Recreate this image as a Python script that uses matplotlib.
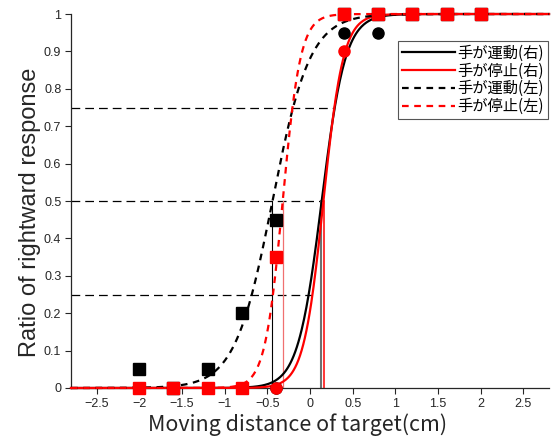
import numpy as np
import matplotlib
matplotlib.use("Agg")
import matplotlib.pyplot as plt
from matplotlib.lines import Line2D

# stimulus positions (cm)
stim_x = [-2.0, -1.6, -1.2, -0.8, -0.4, 0.4, 0.8, 1.2, 1.6, 2.0]

# observed ratios
move_right = [0, 0, 0, 0, 0, 0.95, 0.95, 1, 1, 1]
stop_right = [0, 0, 0, 0, 0, 0.9, 1, 1, 1, 1]
move_left = [0.05, 0, 0.05, 0.2, 0.45, 1, 1, 1, 1, 1]
stop_left = [0, 0, 0, 0, 0.35, 1, 1, 1, 1, 1]

# logistic fit parameters (PSE, scale)
fit_pse = {"move_right": 0.137, "stop_right": 0.157, "move_left": -0.44, "stop_left": -0.32}
fit_scale = {"move_right": 0.139, "stop_right": 0.1165, "move_left": 0.22, "stop_left": 0.104}

legend_labels = ["手が運動(右)", "手が停止(右)", "手が運動(左)", "手が停止(左)"]
ref_levels = [0.25, 0.5, 0.75]

x_ticks = [-2.5, -2, -1.5, -1, -0.5, 0, 0.5, 1, 1.5, 2, 2.5]
x_ticklabels = ["\u22122.5", "\u22122", "\u22121.5", "\u22121", "\u22120.5", "0", "0.5", "1", "1.5", "2", "2.5"]
y_ticks = [0, 0.1, 0.2, 0.3, 0.4, 0.5, 0.6, 0.7, 0.8, 0.9, 1]
y_ticklabels = ["0", "0.1", "0.2", "0.3", "0.4", "0.5", "0.6", "0.7", "0.8", "0.9", "1"]


def logistic(x, key):
    return 1.0 / (1.0 + np.exp(-(x - fit_pse[key]) / fit_scale[key]))


def inv_logistic(p, key):
    return fit_pse[key] + fit_scale[key] * np.log(p / (1 - p))


TXT = "#262626"
XMIN, XMAX = -2.8, 2.8

fig = plt.figure(figsize=(5.53, 4.45), dpi=100)
ax = fig.add_axes([0.1284, 0.1281, 0.8644, 0.8404])

xs = np.linspace(XMIN, XMAX, 600)

# reference lines
for lv in ref_levels:
    ax.plot([XMIN, inv_logistic(lv, "stop_right")], [lv, lv], color="black", lw=0.9,
            dashes=(7, 4), clip_on=False, zorder=2)
ax.plot([fit_pse["move_left"]] * 2, [0, 0.5], color="black", lw=0.8, zorder=2)
ax.plot([fit_pse["stop_left"]] * 2, [0, 0.5], color="#f07070", lw=0.9, zorder=2)
ax.plot([fit_pse["move_right"] - 0.006] * 2, [0, 0.5], color="#707070", lw=1.5, zorder=2)
ax.plot([fit_pse["stop_right"] + 0.004] * 2, [0, 0.5], color="red", lw=1.1, zorder=2)

# fitted curves
ax.plot(xs, logistic(xs, "move_right"), color="black", lw=1.6, zorder=3, clip_on=False)
ax.plot(xs, logistic(xs, "stop_right"), color="red", lw=1.6, zorder=3, clip_on=False)
ax.plot(xs, logistic(xs, "move_left"), color="black", lw=1.6, dashes=(3, 2.5), zorder=3, clip_on=False)
ax.plot(xs, logistic(xs, "stop_left"), color="red", lw=1.6, dashes=(3, 2.5), zorder=3, clip_on=False)

# data points
ax.plot(stim_x, move_right, "o", color="black", ms=8, ls="none", zorder=4, clip_on=False)
ax.plot(stim_x, stop_right, "o", color="red", ms=8, ls="none", zorder=4, clip_on=False)
ax.plot(stim_x, move_left, "s", color="black", ms=8, ls="none", zorder=5, clip_on=False)
ax.plot(stim_x, stop_left, "s", color="red", ms=8, ls="none", zorder=5, clip_on=False)

ax.set_xlim(XMIN, XMAX)
ax.set_ylim(0, 1)
ax.set_xticks(x_ticks)
ax.set_xticklabels(x_ticklabels, fontfamily="Liberation Sans", fontsize=9, color=TXT)
ax.set_yticks(y_ticks)
ax.set_yticklabels(y_ticklabels, fontfamily="Liberation Sans", fontsize=9, color=TXT)
ax.tick_params(direction="out", length=4, width=0.8, color=TXT, pad=3)

for side in ("top", "right"):
    ax.spines[side].set_visible(False)
for side in ("left", "bottom"):
    ax.spines[side].set_color(TXT)
    ax.spines[side].set_linewidth(0.9)

ax.set_xlabel("Moving distance of target(cm)", fontfamily="Noto Sans CJK JP",
              fontsize=15.5, color=TXT)
ax.xaxis.set_label_coords(0.475, -0.067)
ax.set_ylabel("Ratio of rightward response", fontfamily="Liberation Sans",
              fontsize=17, color=TXT)
ax.yaxis.set_label_coords(-0.063, 0.47)

handles = [
    Line2D([], [], color="black", lw=1.6),
    Line2D([], [], color="red", lw=1.6),
    Line2D([], [], color="black", lw=1.6, dashes=(3, 2.5)),
    Line2D([], [], color="red", lw=1.6, dashes=(3, 2.5)),
]
leg = ax.legend(handles, legend_labels, loc="upper right", bbox_to_anchor=(0.998, 0.928),
                prop={"family": ["Noto Sans CJK JP", "DejaVu Sans"], "size": 11},
                frameon=True, fancybox=False, framealpha=1, edgecolor="#555555",
                handlelength=3.5, handletextpad=0.15, borderpad=0.25, labelspacing=0.05,
                borderaxespad=0)
leg.get_frame().set_linewidth(0.8)
leg.set_zorder(10)

fig.savefig("out.png", dpi=100)
